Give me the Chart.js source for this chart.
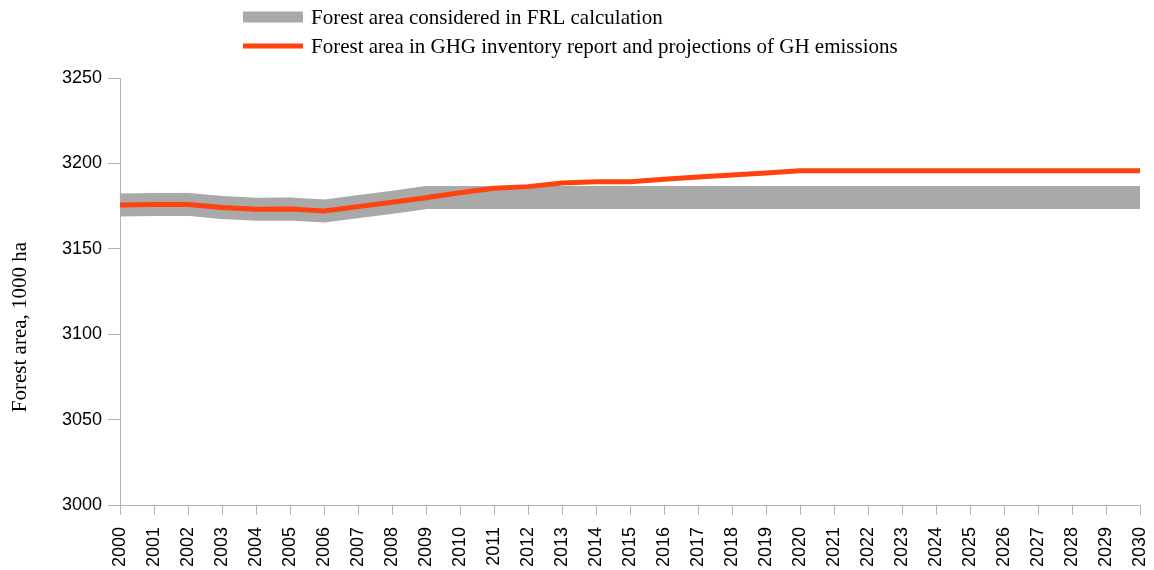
<!DOCTYPE html>
<html><head><meta charset="utf-8">
<script src="https://cdn.jsdelivr.net/npm/chart.js@4.4.1/dist/chart.umd.min.js"></script>
<style>html,body{margin:0;padding:0;background:#fff}#wrap{width:1154px;height:570px;position:relative}</style>
</head><body><div id="wrap"><canvas id="c" width="1154" height="570"></canvas></div>
<script>
const years = ['2000','2001','2002','2003','2004','2005','2006','2007','2008','2009','2010','2011','2012','2013','2014','2015','2016','2017','2018','2019','2020','2021','2022','2023','2024','2025','2026','2027','2028','2029','2030'];
const frlArea = [3175.6,3176,3176,3174.2,3173.1,3173.3,3172.1,3174.7,3177.2,3180,3180,3180,3180,3180,3180,3180,3180,3180,3180,3180,3180,3180,3180,3180,3180,3180,3180,3180,3180,3180,3180];
const ghgArea = [3175.6,3176,3176,3174.2,3173.1,3173.3,3172.1,3174.7,3177.2,3179.9,3182.8,3185.5,3186.4,3188.5,3189.3,3189.3,3190.7,3192,3193.2,3194.4,3195.7,3195.7,3195.7,3195.7,3195.7,3195.7,3195.7,3195.7,3195.7,3195.7,3195.7];
const seriesLabels = ['Forest area considered in FRL calculation','Forest area in GHG inventory report and projections of GH emissions'];
const yTitle = 'Forest area, 1000 ha';
const yMin = 3000, yMax = 3250, yStep = 50;

const axisColor = '#b3b3b3';
const legendPlugin = {
  id: 'customLegend',
  afterDraw(chart) {
    const ctx = chart.ctx;
    ctx.save();
    const entries = [
      { ds: chart.data.datasets[1], y: 17, h: 11 },
      { ds: chart.data.datasets[0], y: 46, h: 5 }
    ];
    entries.forEach(e => {
      ctx.fillStyle = e.ds.borderColor;
      ctx.fillRect(243, e.y - e.h / 2, 60, e.h);
      ctx.fillStyle = '#000';
      ctx.font = '21px "Liberation Serif"';
      ctx.textBaseline = 'middle';
      ctx.textAlign = 'left';
      ctx.fillText(e.ds.label, 311, e.y + 1);
    });
    ctx.translate(20, 327);
    ctx.rotate(-Math.PI / 2);
    ctx.font = '21px "Liberation Serif"';
    ctx.textAlign = 'center';
    ctx.textBaseline = 'middle';
    ctx.fillStyle = '#000';
    ctx.fillText(yTitle, 0, 0);
    ctx.restore();
  }
};

new Chart(document.getElementById('c'), {
  type: 'line',
  data: {
    labels: years,
    datasets: [
      { label: seriesLabels[1], data: ghgArea, borderColor: '#ff420e', borderWidth: 5, pointRadius: 0, fill: false, tension: 0, order: 1 },
      { label: seriesLabels[0], data: frlArea, borderColor: '#a9a9a9', borderWidth: 23, pointRadius: 0, fill: false, tension: 0, order: 2 }
    ]
  },
  options: {
    responsive: false,
    animation: false,
    events: [],
    layout: { padding: { top: 78, right: 14, left: 0, bottom: 0 } },
    plugins: { legend: { display: false }, tooltip: { enabled: false } },
    scales: {
      x: {
        offset: false,
        grid: { drawOnChartArea: false, drawTicks: true, tickLength: 10, color: axisColor },
        border: { display: true, color: axisColor },
        ticks: { color: '#000', font: { family: 'Liberation Sans', size: 18 }, maxRotation: 90, minRotation: 90, autoSkip: false, padding: 12 },
        afterFit(s) { s.height = 65; s.paddingRight = 0; s.paddingLeft = 0; }
      },
      y: {
        min: yMin, max: yMax,
        grid: { drawOnChartArea: false, drawTicks: true, tickLength: 12, color: axisColor },
        border: { display: true, color: axisColor },
        ticks: { stepSize: yStep, color: '#000', font: { family: 'Liberation Sans', size: 18 }, padding: 6, callback: v => String(v) },
        afterFit(s) { s.width = 120; }
      }
    }
  },
  plugins: [legendPlugin]
});
</script></body></html>
